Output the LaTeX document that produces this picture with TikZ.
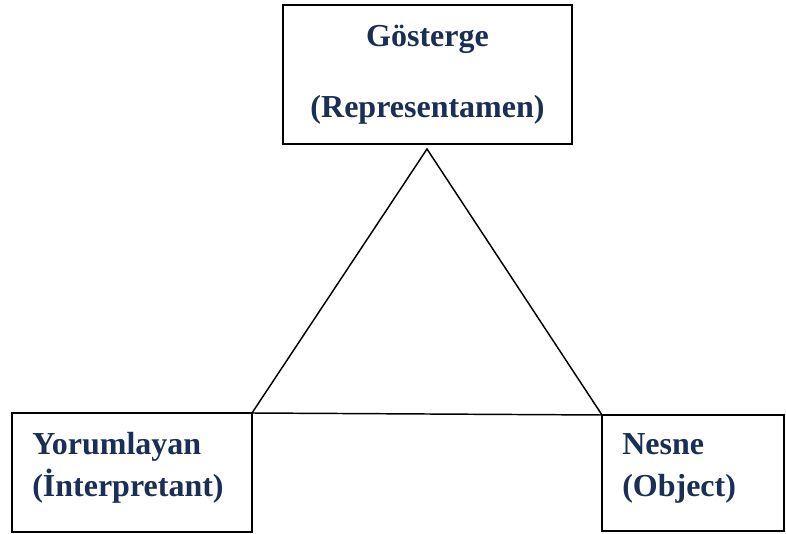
\documentclass[tikz,border=0pt]{standalone}
\usepackage{fontspec}
\setmainfont{Liberation Serif}
\definecolor{txtblue}{HTML}{1A2F55}
\begin{document}
\begin{tikzpicture}[x=0.75pt,y=-0.75pt,
  box/.style={draw=black,line width=1.3pt,inner sep=0pt,outer sep=0pt,fill=white},
  lbl/.style={text=txtblue,font=\fontsize{24}{28}\selectfont\bfseries,inner sep=0pt},
  edge/.style={draw=black,line width=1.1pt,line join=miter}]
\useasboundingbox (0,0) rectangle (786,534);
\node[box,minimum width=216.75pt,minimum height=104.25pt] (top) at (427.5,74.5) {};
\node[box,minimum width=180pt,minimum height=89.25pt] (yl) at (132,472.5) {};
\node[box,minimum width=136.5pt,minimum height=87pt] (ns) at (693,473) {};
\coordinate (apex) at (427,149);
\draw[edge] (apex) -- (yl.north east) -- (ns.north west) -- cycle;
\node[lbl,anchor=base] (t1) at (427.5,47) {Gösterge};
\node[lbl,anchor=base] (t2) at (427.5,118) {(Representamen)};
\node[lbl,anchor=base west] (y1) at (32,455) {Yorumlayan};
\node[lbl,anchor=base west] (y2) at (32,497) {(İnterpretant)};
\node[lbl,anchor=base west] (n1) at (622,455) {Nesne};
\node[lbl,anchor=base west] (n2) at (622,497) {(Object)};
\end{tikzpicture}
\end{document}
